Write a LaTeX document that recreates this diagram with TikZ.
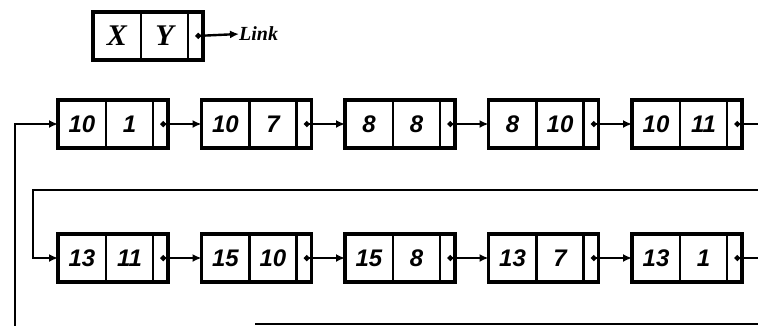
\documentclass[tikz,border=0pt]{standalone}
\usepackage{fontspec}
\setmainfont{Liberation Sans}
\newfontfamily\numfont{Liberation Sans}
\newfontfamily\legfont{Liberation Serif}
\usetikzlibrary{arrows.meta,calc}

\tikzset{
  recbox/.style={draw, line width=3.6pt, minimum width=110pt, minimum height=48pt,
                 inner sep=0pt, outer sep=0pt, anchor=west},
  cellbase/.style={minimum height=48pt, inner sep=0pt, outer sep=0pt, anchor=west},
  numfont/.style={font=\numfont\bfseries\itshape\fontsize{24}{24}\selectfont},
  letfont/.style={font=\legfont\bfseries\itshape\fontsize{30}{30}\selectfont},
  divider/.style={line width=2.6pt},
  tipend/.style={-{Latex[length=9pt,width=8pt]}},
  link/.style={line width=2.4pt, {Circle[length=5.5pt]}-{Latex[length=9pt,width=8pt]}},
  wire/.style={line width=2.4pt},
  linklabel/.style={font=\legfont\bfseries\itshape\fontsize{20}{20}\selectfont,
                    inner sep=0pt, anchor=west},
}

% one record: name, x of left edge, y of centre line, first value, second value
\newcommand\record[6][numfont]{%
  \node[recbox] (#2) at (#3,#4) {};
  \node[cellbase, #1, minimum width=48pt] (#2a) at (#2.west) {#5};
  \node[cellbase, #1, minimum width=47pt] (#2b) at (#2a.east) {#6};
  \node[cellbase, minimum width=15pt] (#2l) at (#2b.east) {};
  \draw[divider] (#2a.north east) -- (#2a.south east);
  \draw[divider] (#2b.north east) -- (#2b.south east);
}

\begin{document}
\begin{tikzpicture}[x=1pt,y=-1pt]
  \useasboundingbox (0,0) rectangle (758,325);
  \clip (0,0) rectangle (758,325);

  % legend record
  \record[letfont]{lg}{93}{36}{X}{Y}
  \node[linklabel] (lbl) at (239,34) {Link};
  \draw[link] (lgl.center) -- (lbl.west);

  % first row
  \record{r1}{58}{124}{10}{1}
  \record{r2}{201.5}{124}{10}{7}
  \record{r3}{345}{124}{8}{8}
  \record{r4}{488.5}{124}{8}{10}
  \record{r5}{632}{124}{10}{11}

  % second row
  \record{r6}{58}{258}{13}{11}
  \record{r7}{201.5}{258}{15}{10}
  \record{r8}{345}{258}{15}{8}
  \record{r9}{488.5}{258}{13}{7}
  \record{r10}{632}{258}{13}{1}

  % links inside the rows
  \draw[link] (r1l.center) -- (r2.west);
  \draw[link] (r2l.center) -- (r3.west);
  \draw[link] (r3l.center) -- (r4.west);
  \draw[link] (r4l.center) -- (r5.west);
  \draw[link] (r6l.center) -- (r7.west);
  \draw[link] (r7l.center) -- (r8.west);
  \draw[link] (r8l.center) -- (r9.west);
  \draw[link] (r9l.center) -- (r10.west);

  % wrap from the first row to the second
  \coordinate (eastA) at (775,124);
  \coordinate (topR) at (775,190);
  \coordinate (topL) at (33,190);
  \draw[wire, {Circle[length=5.5pt]}-] (r5l.center) -- (eastA);
  \draw[wire, tipend] (topR) -- (topL) |- (r6.west);

  % wrap from the second row back to the first
  \coordinate (eastB) at (775,258);
  \coordinate (botR) at (775,324);
  \coordinate (botM) at (255,324);
  \coordinate (botL) at (15,335);
  \draw[wire, {Circle[length=5.5pt]}-] (r10l.center) -- (eastB);
  \draw[wire] (botR) -- (botM);
  \draw[wire, tipend] (botL) |- (r1.west);
\end{tikzpicture}
\end{document}
